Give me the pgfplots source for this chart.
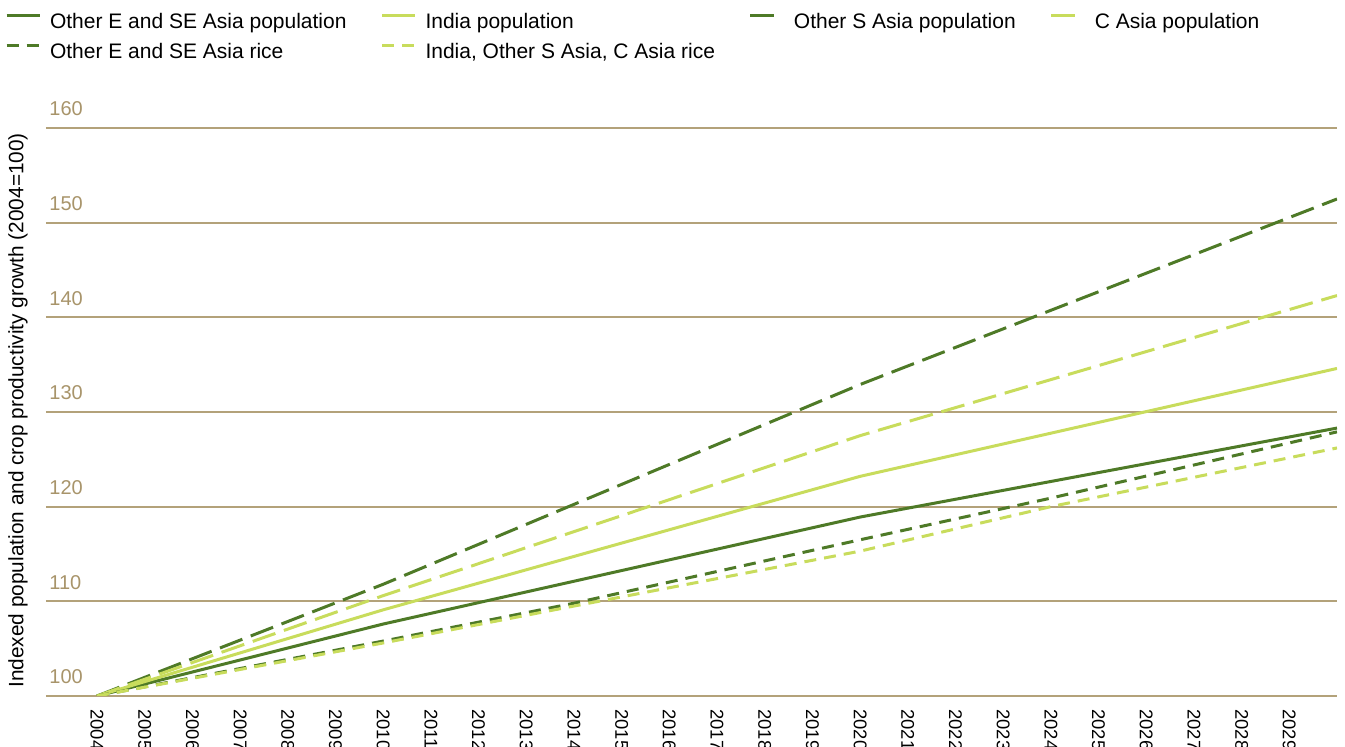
\documentclass[border=0pt]{standalone}
\usepackage{fontspec}
\setmainfont{Liberation Sans}
\usepackage{pgfplots}
\pgfplotsset{compat=1.18}
\definecolor{dkgreen}{HTML}{4E7A27}
\definecolor{ltgreen}{HTML}{C8DC5C}
\definecolor{gridtan}{HTML}{B3A27A}
\definecolor{ticktan}{HTML}{A8946A}
\begin{document}
\begin{tikzpicture}
\useasboundingbox (-23pt,-25.5pt) rectangle (649.5pt,348pt);
\begin{axis}[
  scale only axis, width=645.5pt, height=284pt,
  xmin=2002.93, xmax=2030, ymin=100, ymax=160,
  axis line style={draw=none}, major tick length=0pt,
  ymajorgrids, grid style={gridtan, line width=1pt},
  xtick={2004,2005,...,2029}, ytick={100,110,...,160},
  /pgf/number format/assume math mode=true,
  /pgf/number format/1000 sep={},
  ticklabel style={font=\fontsize{10}{12}\selectfont},
  xticklabel style={rotate=-90, anchor=west, inner sep=0pt, xshift=6.5pt, font=\fontsize{9.2}{11}\selectfont},
  yticklabel style={anchor=base west, inner sep=0pt, xshift=1.5pt, yshift=6pt, text=ticktan},
  ylabel={Indexed population and crop productivity growth (2004=100)},
  ylabel style={at={(axis description cs:-0.0217,0.503)}, anchor=center, font=\fontsize{10.4}{12}\selectfont},
  legend columns=4, legend cell align=left,
  legend style={at={(-0.03176,1.2016)}, anchor=north west, draw=none, fill=none,
    inner sep=0pt, outer sep=0pt, row sep=6pt,
    font=\fontsize{10.5}{12}\selectfont,
    nodes={inner sep=0pt},
    /tikz/every even column/.append style={column sep=17pt}},
  legend image code/.code={\draw[#1] (0pt,3.5pt) -- (16.5pt,3.5pt); \path (21pt,3.5pt);},
  every axis plot/.append style={line width=1.5pt},
]
% population
\addplot[dkgreen] coordinates {(2004,100) (2010,107.6) (2020,118.9) (2030,128.3)};
\addlegendentry{Other E and SE Asia population}
\addplot[ltgreen] coordinates {(2004,100) (2010,109.1) (2020,123.2) (2030,134.6)};
\addlegendentry{India population}
\addplot[dkgreen, dash pattern=on 12pt off 4.5pt] coordinates {(2004,100) (2010,111.8) (2020,132.9) (2030,152.5)};
\addlegendentry{Other S Asia population}
\addplot[ltgreen, dash pattern=on 12pt off 4.5pt] coordinates {(2004,100) (2010,110.6) (2020,127.5) (2030,142.3)};
\addlegendentry{C Asia population}
% rice
\addplot[dkgreen, dash pattern=on 6pt off 4pt] coordinates {(2004,100) (2010,105.8) (2014,109.8) (2020,116.5) (2024,120.9) (2030,127.9)};
\addlegendentry{Other E and SE Asia rice}
\addplot[ltgreen, dash pattern=on 6pt off 4pt] coordinates {(2004,100) (2010,105.6) (2014,109.5) (2020,115.3) (2024,120.0) (2030,126.2)};
\addlegendentry{India, Other S Asia, C Asia rice}
\end{axis}
\end{tikzpicture}
\end{document}
